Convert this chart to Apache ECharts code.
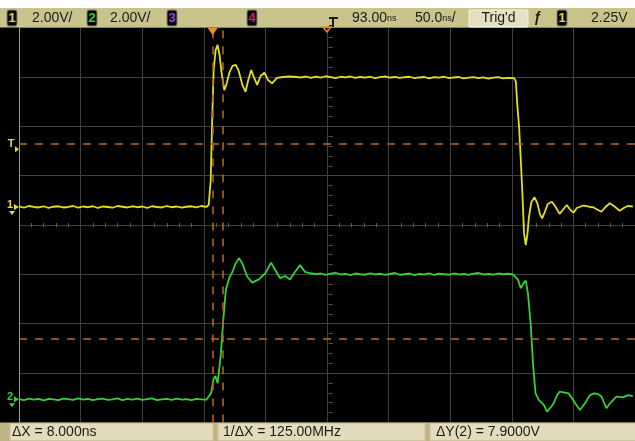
<!DOCTYPE html>
<html><head><meta charset="utf-8">
<script src="https://cdn.jsdelivr.net/npm/echarts@6/dist/echarts.min.js"></script>
<style>html,body{margin:0;padding:0;background:#000;overflow:hidden}#c{width:635px;height:441px}</style>
</head><body><div id="c"></div>
<script>
// ---- DATA (time in ns from left screen edge, amplitude in volts) ----
const ch1Wave = [
[0,0.02],[4,-0.03],[8,0.04],[12,0.00],[16,-0.02],[20,0.03],[24,-0.04],[28,0.01],[32,0.03],[36,-0.02],
[40,0.00],[44,0.04],[48,-0.03],[52,0.02],[56,-0.01],[60,0.03],[64,-0.04],[68,0.02],[72,0.00],[76,-0.03],
[80,0.04],[84,0.01],[88,-0.02],[92,0.03],[96,-0.01],[100,0.02],[104,-0.04],[108,0.03],[112,0.00],[116,-0.02],
[120,0.04],[124,-0.01],[128,0.02],[132,-0.03],[136,0.01],[140,0.03],[144,-0.02],[148,0.04],[152,0.00],
[154.0,0.08],[155.6,1.09],[156.8,3.53],[158.0,5.55],[159.6,6.36],[161.2,6.57],[162.8,6.16],[164.4,5.47],[166.6,4.74],
[168.5,4.99],[170.9,5.47],[173.3,5.72],[175.9,5.76],[178.1,5.55],[181.3,4.95],[183.9,4.67],[186.1,5.15],[188.5,5.55],
[190.9,5.23],[193.3,4.95],[196.1,5.31],[199.2,5.45],[202.1,5.15],[205.4,5.01],[209.4,5.23],[214.2,5.27],[219.8,5.29],[225.4,5.27],
[229,5.25],[233,5.29],[237,5.23],[241,5.28],[245,5.24],[249,5.30],[253,5.26],[257,5.22],[261,5.28],[265,5.25],
[269,5.29],[273,5.23],[277,5.27],[281,5.24],[285,5.28],[289,5.22],[293,5.26],[297,5.29],[301,5.24],[305,5.27],
[309,5.23],[313,5.26],[317,5.28],[321,5.22],[325,5.25],[329,5.27],[333,5.21],[337,5.26],[341,5.24],[345,5.28],
[349,5.22],[353,5.25],[357,5.27],[361,5.21],[365,5.24],[369,5.26],[373,5.22],[377,5.25],[381,5.20],[385,5.24],
[389,5.26],[393,5.21],[397,5.23],
[401.9,5.22],[403.3,5.08],[404.5,4.14],[405.9,3.26],[407.3,1.91],[408.6,0.57],[409.9,-1.05],[411.3,-1.54],[412.6,-1.14],
[413.9,-0.41],[415.9,0.20],[418.5,0.39],[420.7,0.16],[422.8,-0.28],[424.6,-0.46],[426.8,-0.20],[429.2,0.12],[432.6,0.21],
[435.6,0.00],[438.8,-0.28],[442.0,-0.08],[444.6,0.08],[447.6,-0.12],[450.0,-0.23],[452.8,-0.04],[455.4,0.01],[458.1,0.06],
[460.4,0.04],[463.3,0.00],[466.1,-0.01],[469.3,-0.10],[472.8,-0.19],[476.1,0.00],[479.5,0.15],[482.9,0.04],[487.5,-0.15],
[490.9,-0.04],[494.1,0.04],[498.2,0.02]
];
const ch2Wave = [
[0,0.01],[4,-0.03],[8,0.03],[12,-0.01],[16,0.02],[20,-0.04],[24,0.02],[28,0.00],[32,-0.03],[36,0.03],
[40,0.01],[44,-0.02],[48,0.04],[52,-0.01],[56,0.02],[60,-0.03],[64,0.01],[68,0.03],[72,-0.02],[76,0.00],
[80,0.04],[84,-0.03],[88,0.02],[92,-0.01],[96,0.03],[100,-0.02],[104,0.01],[108,0.04],[112,-0.03],[116,0.00],
[120,0.02],[124,-0.02],[128,0.03],[132,-0.01],[136,0.01],[140,-0.03],[144,0.02],[148,0.00],[152,-0.02],
[155.9,0.24],[158.0,0.85],[159.4,0.94],[161.2,0.65],[162.6,0.71],[163.9,1.86],[165.8,3.21],[167.9,4.43],[170.6,4.91],
[173.3,5.17],[175.9,5.51],[178.6,5.72],[181.3,5.51],[185.3,4.97],[189.3,4.73],[194.7,4.86],[200.0,5.11],[204.6,5.54],
[208.0,5.24],[212.0,4.91],[216.0,5.00],[220.0,4.86],[224.1,5.17],[228.1,5.44],[232.1,5.17],[236.1,5.11],[241.5,5.07],
[245,5.10],[249,5.04],[253,5.09],[257,5.13],[261,5.06],[265,5.08],[269,5.03],[273,5.10],[277,5.07],[281,5.05],
[285,5.11],[289,5.06],[293,5.09],[297,5.04],[301,5.08],[305,5.12],[309,5.05],[313,5.07],[317,5.10],[321,5.03],
[325,5.08],[329,5.06],[333,5.11],[337,5.04],[341,5.09],[345,5.07],[349,5.05],[353,5.10],[357,5.06],[361,5.08],
[365,5.04],[369,5.09],[373,5.12],[377,5.06],[381,5.08],[385,5.05],[389,5.10],[393,5.07],[397,5.09],[401,5.06],
[405.1,4.84],[407.3,4.50],[409.4,4.70],[411.3,4.81],[413.1,4.30],[415.3,3.08],[417.4,1.32],[419.3,0.24],[422.0,-0.03],
[426.0,-0.23],[428.6,-0.50],[431.2,-0.35],[434.0,-0.16],[436.4,0.13],[438.8,0.31],[442.0,0.28],[446.1,0.24],[448.8,0.05],
[451.4,-0.16],[455.4,-0.43],[457.2,-0.31],[459.4,-0.16],[463.4,0.17],[466.9,0.24],[470.1,0.21],[472.8,0.11],[475.0,-0.15],
[476.8,-0.36],[479.0,-0.21],[480.9,-0.10],[484.9,0.11],[490.3,0.08],[494.3,0.17],[498.2,0.13]
];
const cursorXns = [157.2, 165.2];          // X cursors (ΔX = 8 ns)
const cursorYVolts = [2.44, 10.34];        // Y cursors on channel 2 (ΔY = 7.9 V)
const triggerTimeNs = 157.2;
const channelScales = ['2.00V/', '2.00V/'];
const timeLabels = ['93.00', '50.0'];
const triggerLevel = '2.25V';
const measureLabels = ['ΔX = 8.000ns', '1/ΔX = 125.00MHz', 'ΔY(2) = 7.9000V'];

// ---- scope setup ----
const voltsPerDiv = 2;
const ch1GroundDiv = 4.366, ch2GroundDiv = 0.468;
const toDiv = (g) => (p) => [p[0], g + p[1] / voltsPerDiv];

const YEL = '#e2de22', GRN = '#34d234', CUR = '#b0611d';
const FONT = '"Liberation Sans", Arial, sans-serif';

const chart = echarts.init(document.getElementById('c'), null, {renderer: 'canvas'});
const hiddenAxis = {axisLabel:{show:false}, axisTick:{show:false}, splitLine:{show:false}, axisLine:{show:false}};
const minor = {show:true, splitNumber:5, length:2, lineStyle:{color:'#5c5c5c'}};
chart.setOption({
  animation: false,
  backgroundColor: '#000',
  grid: {left: 19, top: 27.7, width: 623.3, height: 394.7, containLabel: false},
  xAxis: [
    {type:'value', min:0, max:500, interval:50, axisLabel:{show:false}, axisTick:{show:false}, axisLine:{show:false},
     splitLine:{show:true, lineStyle:{color:'#404040', width:1}}},
    Object.assign({type:'value', min:0, max:500, interval:50, position:'bottom', offset:-197.35}, hiddenAxis, {minorTick:minor}),
    Object.assign({type:'value', min:0, max:500, interval:50, position:'bottom', offset:-197.35}, hiddenAxis,
     {axisTick:{show:false, inside:true}, minorTick:minor})
  ],
  yAxis: [
    {type:'value', min:0, max:8, interval:1, axisLabel:{show:false}, axisTick:{show:false},
     axisLine:{show:true, lineStyle:{color:'#9a9a9a', width:1}},
     splitLine:{show:true, lineStyle:{color:'#404040', width:1}}},
    Object.assign({type:'value', min:0, max:8, interval:1, position:'left', offset:-311.65}, hiddenAxis, {minorTick:minor}),
    Object.assign({type:'value', min:0, max:8, interval:1, position:'left', offset:-311.65}, hiddenAxis,
     {axisTick:{show:false, inside:true}, minorTick:minor})
  ],
  series: [
    {type:'line', data: ch2Wave.map(toDiv(ch2GroundDiv)), showSymbol:false, symbol:'none',
     lineStyle:{color:GRN, width:1.8}, z:3,
     markLine:{silent:true, symbol:['none','none'], label:{show:false},
       lineStyle:{color:CUR, type:[8,8], width:1.6},
       data: cursorXns.map(v => ({xAxis: v})).concat(cursorYVolts.map(v => ({yAxis: ch2GroundDiv + v / voltsPerDiv})))}},
    {type:'line', data: ch1Wave.map(toDiv(ch1GroundDiv)), showSymbol:false, symbol:'none',
     lineStyle:{color:YEL, width:1.8}, z:4}
  ]
});

// ---- chrome (bars, labels, markers) ----
const yG1 = chart.convertToPixel({yAxisIndex:0}, ch1GroundDiv);
const yG2 = chart.convertToPixel({yAxisIndex:0}, ch2GroundDiv);
const yTrig = chart.convertToPixel({yAxisIndex:0}, ch2GroundDiv + cursorYVolts[1] / voltsPerDiv);
const xTrig = chart.convertToPixel({xAxisIndex:0}, triggerTimeNs);
const xMid = chart.convertToPixel({xAxisIndex:0}, 250);

const G = [];
const txt = (x, y, s, opt) => G.push({type:'text', x, y, z:100, style:Object.assign({text:s, fill:'#1c1c1c', font:'14px ' + FONT, textAlign:'left', textVerticalAlign:'middle'}, opt||{})});
const rect = (x, y, w, h, fill, stroke, r) => G.push({type:'rect', z:90, shape:{x, y, width:w, height:h, r:r||0}, style:{fill, stroke:stroke||null, lineWidth:1}});
const badge = (x, s, col) => { rect(x, 10, 10, 16, '#060606', '#85846a', 2); txt(x + 5, 18.5, s, {fill:col, font:'bold 13px ' + FONT, textAlign:'center'}); };

// top bar
rect(0, 0, 635, 8, '#ffffff');
rect(0, 8, 635, 19.5, '#c9c38c');
badge(7, '1', YEL); txt(32, 18.5, channelScales[0]);
badge(87, '2', GRN); txt(110, 18.5, channelScales[1]);
badge(167, '3', '#9b3cf2');
badge(247, '4', '#e0186e');
// delay icon
G.push({type:'polyline', z:100, shape:{points:[[329,18],[338,18]]}, style:{stroke:'#1c1c1c', lineWidth:2}});
G.push({type:'polyline', z:100, shape:{points:[[333,18],[333,26],[329,26]]}, style:{stroke:'#1c1c1c', lineWidth:2, fill:null}});
G.push({type:'polygon', z:101, shape:{points:[[xMid-4,27],[xMid+4,27],[xMid,32]]}, style:{fill:null, stroke:'#e08a2c', lineWidth:1.5}});
G.push({type:'text', x:352, y:18.5, z:100, style:{text:'{a|' + timeLabels[0] + '}{b|ns}', textVerticalAlign:'middle',
  rich:{a:{font:'14px ' + FONT, fill:'#1c1c1c'}, b:{font:'9px ' + FONT, fill:'#1c1c1c'}}}});
G.push({type:'text', x:415, y:18.5, z:100, style:{text:'{a|' + timeLabels[1] + '}{b|ns}{a|/}', textVerticalAlign:'middle',
  rich:{a:{font:'14px ' + FONT, fill:'#1c1c1c'}, b:{font:'9px ' + FONT, fill:'#1c1c1c'}}}});
rect(469, 10, 59, 17, '#e6e0c2', '#f6f3e2', 1);
txt(498.5, 18.5, "Trig'd", {textAlign:'center'});
txt(537.5, 18.5, 'ƒ', {textAlign:'center', font:'bold italic 14px ' + FONT});
badge(557, '1', YEL);
txt(591, 18.5, triggerLevel);

// trigger point marker
G.push({type:'polygon', z:101, shape:{points:[[xTrig-5,28],[xTrig+5,28],[xTrig,35]]}, style:{fill:'#e8922c'}});

// bottom bar
rect(0, 422.4, 635, 18.6, '#bdb583');
rect(10, 423.5, 203, 17, '#e3dcbc', '#cfc69c');
rect(218, 423.5, 207, 17, '#e3dcbc', '#cfc69c');
rect(430, 423.5, 210, 17, '#e3dcbc', '#cfc69c');
txt(12, 432, measureLabels[0]);
txt(223, 432, measureLabels[1]);
txt(436, 432, measureLabels[2]);

// left markers
const mark = (y, s, col) => {
  txt(10, y - 2, s, {fill:col, font:'bold 11px ' + FONT, textAlign:'center'});
  G.push({type:'polygon', z:101, shape:{points:[[14,y-3],[14,y+3],[19,y]]}, style:{fill:col}});
  G.push({type:'polygon', z:101, shape:{points:[[9,y+4],[15,y+4],[12,y+8]]}, style:{fill:col}});
};
mark(yG1, '1', YEL);
mark(yG2, '2', GRN);
txt(11, yTrig, 'T', {fill:YEL, font:'bold 11px ' + FONT, textAlign:'center'});
G.push({type:'polygon', z:101, shape:{points:[[15,yTrig+2],[15,yTrig+8],[19,yTrig+5]]}, style:{fill:YEL}});

chart.setOption({graphic: G});
</script></body></html>
